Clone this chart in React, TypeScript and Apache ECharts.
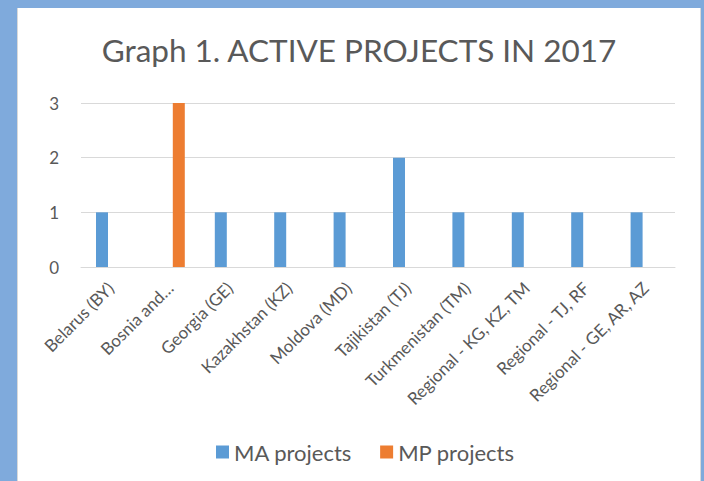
import React, { useEffect, useRef } from "react";
import * as echarts from "echarts";

const categories = [
  "Belarus (BY)",
  "Bosnia and Herzegovina (BA)",
  "Georgia (GE)",
  "Kazakhstan (KZ)",
  "Moldova (MD)",
  "Tajikistan (TJ)",
  "Turkmenistan (TM)",
  "Regional - KG, KZ, TM",
  "Regional - TJ, RF",
  "Regional - GE, AR, AZ",
];
const maProjects = [1, 0, 1, 1, 1, 2, 1, 1, 1, 1];
const mpProjects = [0, 3, 0, 0, 0, 0, 0, 0, 0, 0];
const seriesNames = ["MA projects", "MP projects"];
const titleText = "Graph 1. ACTIVE PROJECTS IN 2017";

const FONT = "Lato, 'Open Sans', sans-serif";
const TEXT = "#595959";

export default function App() {
  const ref = useRef<HTMLDivElement>(null);
  useEffect(() => {
    if (!ref.current) return;
    const chart = echarts.init(ref.current, undefined, { renderer: "svg" });
    chart.setOption({
      animation: false,
      textStyle: { fontFamily: FONT },
      title: {
        text: titleText,
        left: "center",
        top: 21,
        textStyle: { fontFamily: FONT, fontSize: 31.5, fontWeight: "normal", color: TEXT },
      },
      legend: {
        data: seriesNames,
        bottom: 20,
        left: 193,
        icon: "rect",
        itemWidth: 13,
        itemHeight: 13,
        itemGap: 28,
        textStyle: { fontFamily: FONT, fontSize: 22, color: TEXT },
      },
      grid: { left: 63, right: 25, top: 95, height: 164 },
      xAxis: {
        type: "category",
        data: categories,
        axisLine: { lineStyle: { color: "#d9d9d9" } },
        axisTick: { show: false },
        axisLabel: {
          rotate: 45,
          interval: 0,
          fontSize: 17,
          color: TEXT,
          margin: 18,
          formatter: (v: string) => (v.length > 22 ? v.slice(0, 10) + "…" : v),
        },
      },
      yAxis: {
        type: "value",
        min: 0,
        max: 3,
        interval: 1,
        axisLine: { show: false },
        axisTick: { show: false },
        splitLine: { lineStyle: { color: "#d9d9d9" } },
        axisLabel: { fontSize: 17, color: TEXT, margin: 22 },
      },
      series: [
        {
          name: seriesNames[0],
          type: "bar",
          data: maProjects,
          barWidth: 12,
          barGap: "45%",
          itemStyle: { color: "#5b9bd5" },
        },
        {
          name: seriesNames[1],
          type: "bar",
          data: mpProjects,
          barWidth: 12,
          itemStyle: { color: "#ed7d31" },
        },
      ],
    });
    return () => chart.dispose();
  }, []);
  return (
    <div style={{ position: "fixed", left: 0, top: 0, width: 704, height: 481, background: "#7faadc", overflow: "hidden" }}>
      <div
        style={{
          position: "absolute",
          left: 17,
          top: 8,
          width: 684,
          height: 480,
          background: "#ffffff",
          borderRight: "1px solid #d9d9d9",
          borderLeft: "1px solid #d9d9d9",
          boxSizing: "border-box",
        }}
      >
        <div ref={ref} style={{ width: 682, height: 480 }} />
      </div>
    </div>
  );
}
